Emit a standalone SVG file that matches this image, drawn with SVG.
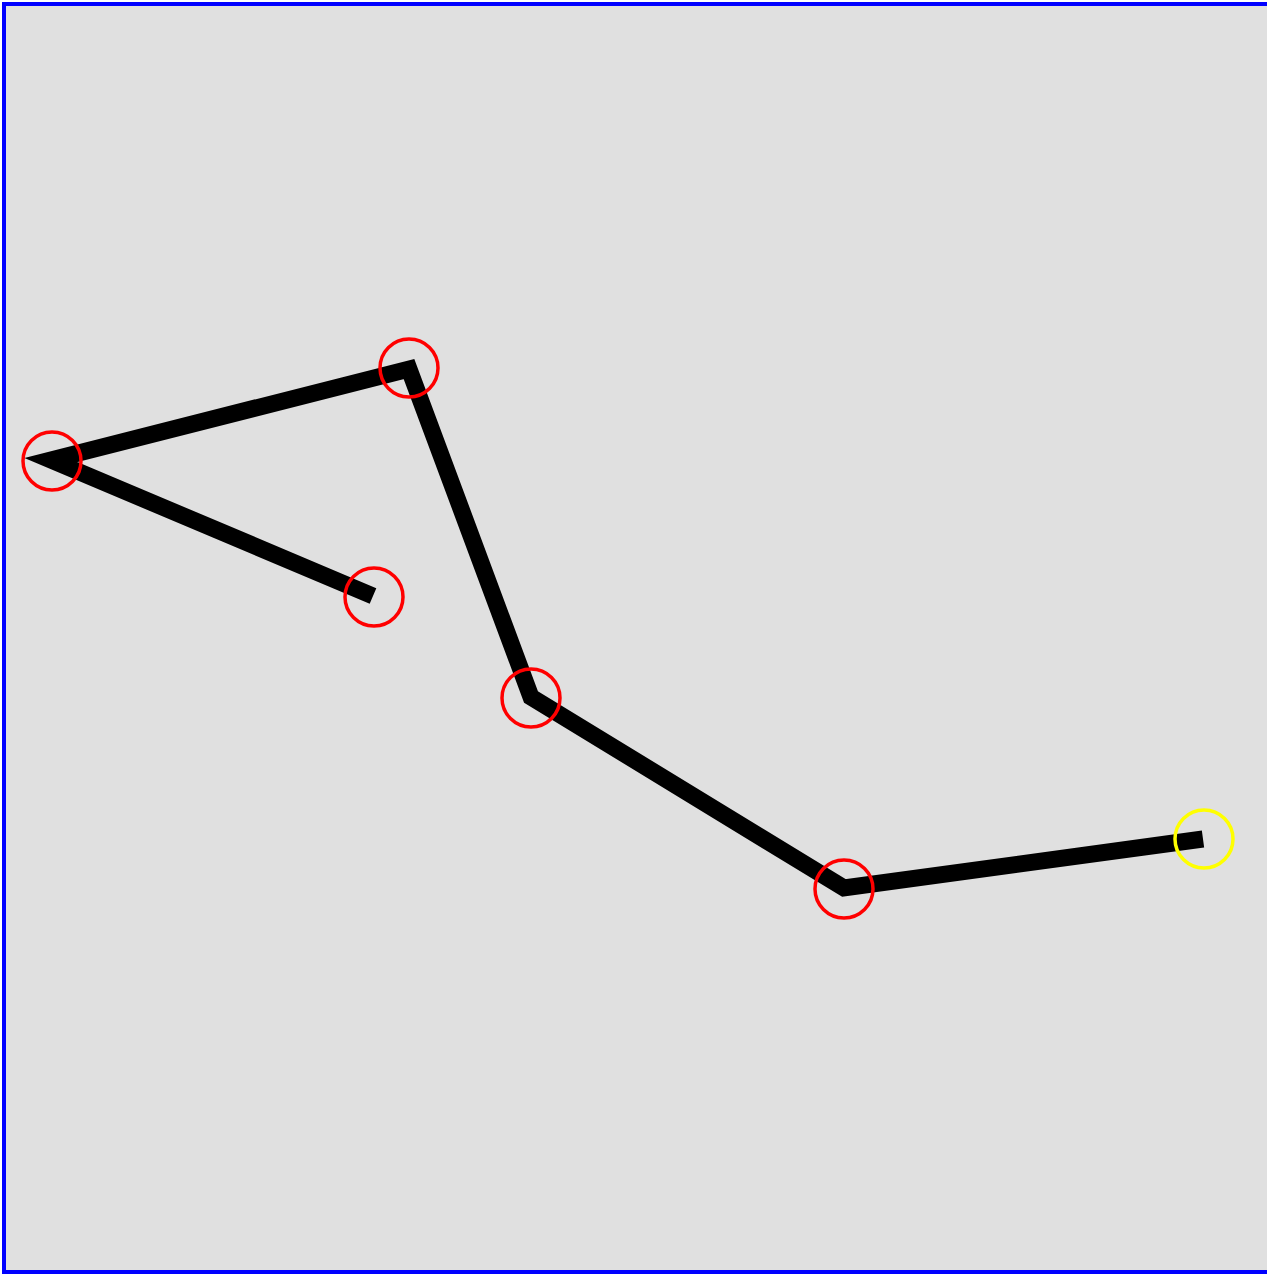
<svg xmlns="http://www.w3.org/2000/svg" width="1267" height="1274" viewBox="0 0 1267 1274">
<style>
.bg{fill:#e0e0e0;stroke:#0000ff;stroke-width:4}
.path{fill:none;stroke:#000;stroke-width:17;stroke-linejoin:miter;stroke-miterlimit:10}
.v{fill:none;stroke:#ff0000;stroke-width:3.5}
.end{fill:none;stroke:#ffff00;stroke-width:3.5}
</style>
<rect class="bg" x="4" y="4" width="1275" height="1268"/>
<g id="connectors">
<polyline class="path" points="373,596 51,460 409,369 531,697 844,888 1203,839"/>
</g>
<g id="node-0"><circle class="v" cx="374" cy="597" r="29"/></g>
<g id="node-1"><circle class="v" cx="52" cy="461" r="29"/></g>
<g id="node-2"><circle class="v" cx="409" cy="368" r="29"/></g>
<g id="node-3"><circle class="v" cx="531" cy="698" r="29"/></g>
<g id="node-4"><circle class="v" cx="844" cy="889" r="29"/></g>
<g id="node-5"><circle class="end" cx="1204" cy="839" r="29"/></g>
</svg>
